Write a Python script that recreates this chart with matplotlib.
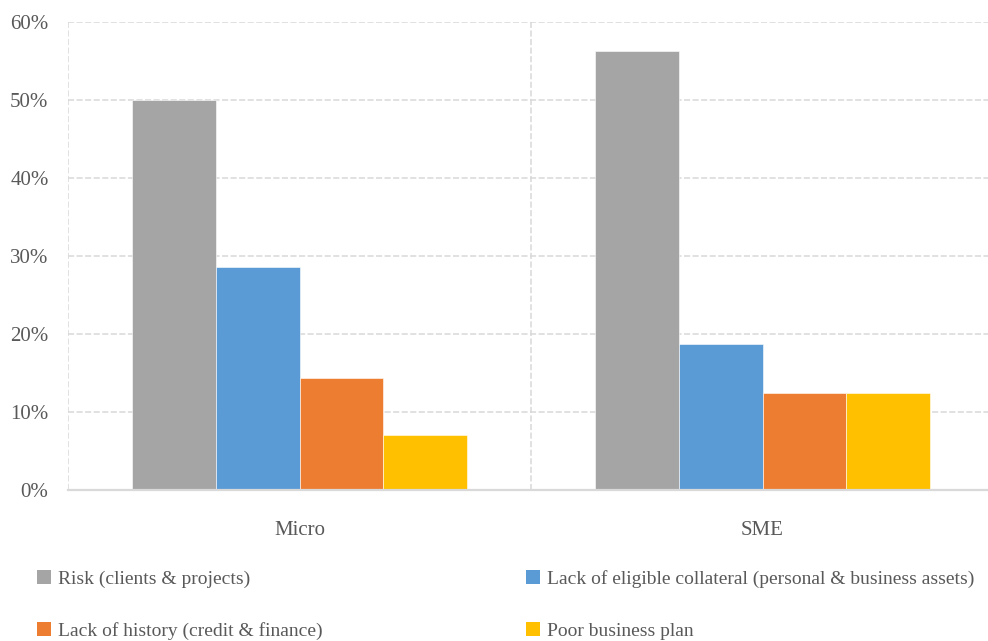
import numpy as np
import matplotlib.pyplot as plt
from matplotlib.patches import Patch
from matplotlib.ticker import PercentFormatter, FixedLocator

# survey shares per firm size
groups = ["Micro", "SME"]
reasons = [
    "Risk (clients & projects)",
    "Lack of eligible collateral (personal & business assets)",
    "Lack of history (credit & finance)",
    "Poor business plan",
]
risk = [50.0, 56.25]
collateral = [28.6, 18.75]
history = [14.3, 12.5]
business_plan = [7.1, 12.5]
series = [risk, collateral, history, business_plan]
colors = ["#A5A5A5", "#5B9BD5", "#ED7D31", "#FFC000"]

plt.rcParams["font.family"] = ["Liberation Serif", "DejaVu Serif"]
text_col = "#595959"
grid_col = "#D9D9D9"

fig = plt.figure(figsize=(9.88, 6.41), dpi=100)
ax = fig.add_axes([68 / 988, 1 - 490 / 641, 926 / 988, 468 / 641])

x = np.arange(len(groups))
w = 0.181
for i, (vals, c) in enumerate(zip(series, colors)):
    ax.bar(x + (i - 1.5) * w, vals, width=w, color=c, edgecolor="white",
           linewidth=0.4, zorder=3)

ax.set_xlim(-0.5, 1.5)
ax.set_ylim(0, 60)
ax.set_yticks(np.arange(0, 61, 10))
ax.yaxis.set_major_formatter(PercentFormatter(decimals=0))
ax.set_xticks(x)
ax.set_xticklabels(groups)
ax.xaxis.set_minor_locator(FixedLocator([-0.5, 0.5, 1.5]))

dash = (0, (4, 1.6))
ax.grid(axis="y", which="major", color=grid_col, linestyle=dash, linewidth=1.1, zorder=0)
ax.grid(axis="x", which="minor", color=grid_col, linestyle=dash, linewidth=1.1, zorder=0)
ax.grid(axis="x", which="major", visible=False)

for s in ["top", "left", "right"]:
    ax.spines[s].set_visible(False)
ax.spines["bottom"].set_color(grid_col)
ax.spines["bottom"].set_linewidth(1.6)
ax.spines["bottom"].set_zorder(4)

ax.tick_params(axis="both", which="both", length=0, labelsize=15, colors=text_col)
ax.tick_params(axis="y", pad=14)
ax.tick_params(axis="x", pad=22)

handles = [Patch(facecolor=c, edgecolor="none") for c in colors]
leg_kw = dict(frameon=False, fontsize=14, labelcolor=text_col, handlelength=0.7,
              handleheight=0.7, handletextpad=0.4, labelspacing=1.75,
              borderpad=0, borderaxespad=0, loc="upper left")
fig.legend([handles[0], handles[2]], [reasons[0], reasons[2]],
           bbox_to_anchor=(37 / 988, 1 - 570 / 641), **leg_kw)
fig.legend([handles[1], handles[3]], [reasons[1], reasons[3]],
           bbox_to_anchor=(526 / 988, 1 - 570 / 641), **leg_kw)

fig.savefig("out.png", dpi=100)
